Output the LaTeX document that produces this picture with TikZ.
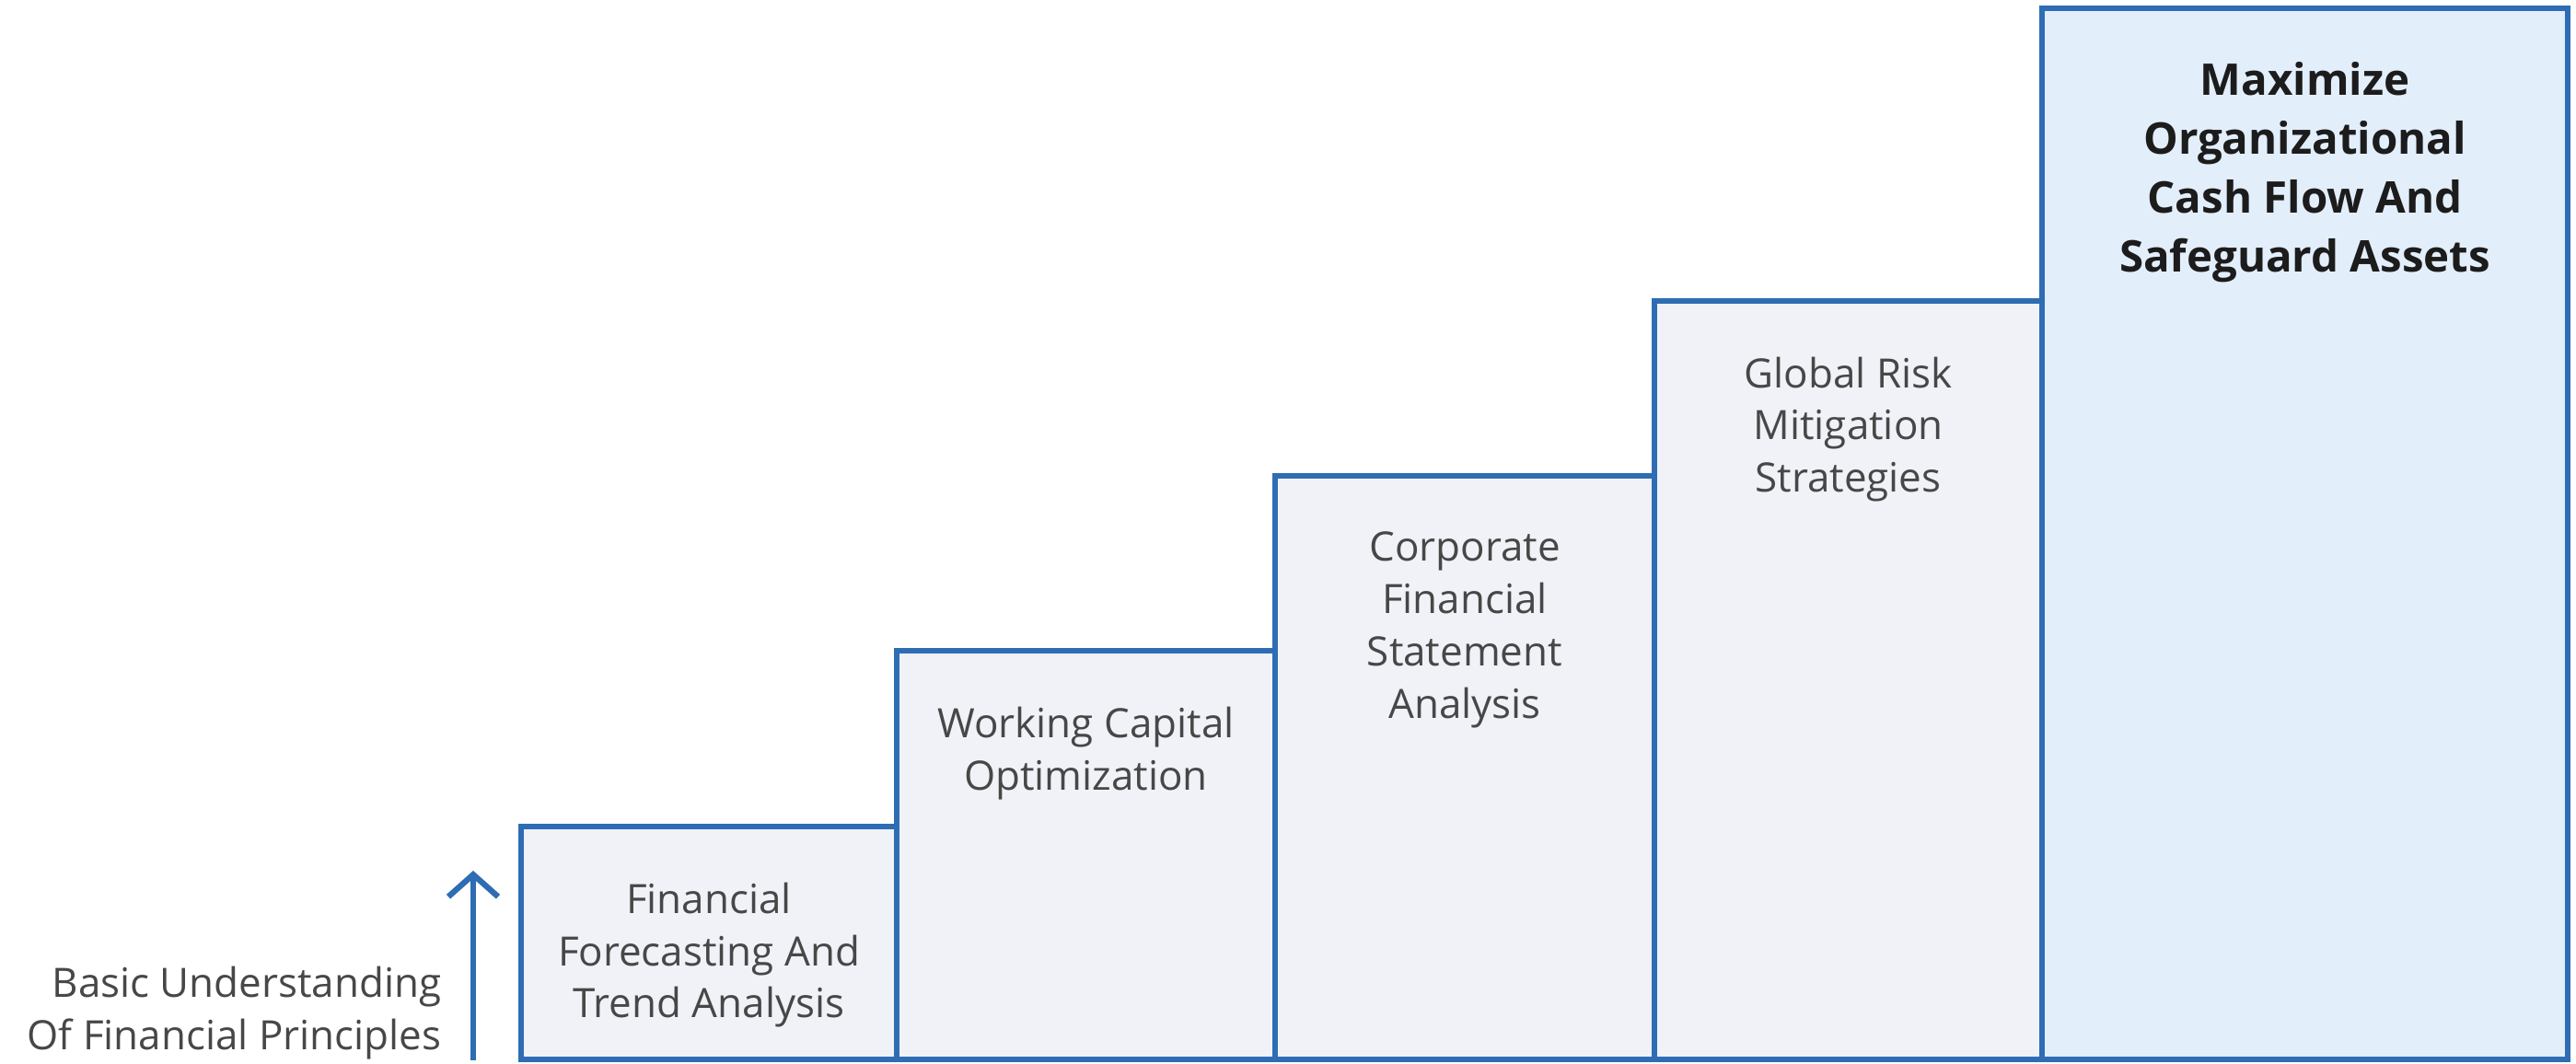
\documentclass[tikz,border=0pt]{standalone}
\usepackage{fontspec}
\setmainfont{Open Sans}
\usetikzlibrary{positioning, arrows.meta}

\definecolor{stepblue}{HTML}{2E6DB4}
\definecolor{stepfill}{HTML}{F0F2F7}
\definecolor{topfill}{HTML}{E3EEFB}
\definecolor{steptext}{HTML}{474747}
\definecolor{toptext}{HTML}{1C1C1C}

\tikzset{
  stepbox/.style={draw=stepblue, line width=1.8pt, fill=stepfill, anchor=south west, outer sep=0pt, inner sep=0pt},
  steplabel/.style={text=steptext, font=\fontsize{12.5}{16.2}\selectfont, inner sep=0pt},
}

\begin{document}
\begin{tikzpicture}[>={Straight Barb[length=2.4mm, width=5.4mm]}, align=center]
\useasboundingbox (0,0) rectangle (27.98,11.56);

% the staircase
\node[stepbox, minimum width=4.08cm, minimum height=2.53cm] (fc) at (5.66,0.05) {};
\node[stepbox, minimum width=4.11cm, minimum height=4.44cm] (wc) at (fc.south east) {};
\node[stepbox, minimum width=4.12cm, minimum height=6.34cm] (cfs) at (wc.south east) {};
\node[stepbox, minimum width=4.21cm, minimum height=8.24cm] (grm) at (cfs.south east) {};
\node[stepbox, fill=topfill, minimum width=5.71cm, minimum height=11.42cm] (goal) at (grm.south east) {};

\node[steplabel, below=0.6cm of fc.north] (fctext) {Financial\\Forecasting And\\Trend Analysis};
\node[steplabel, below=0.6cm of wc.north] (wctext) {Working Capital\\Optimization};
\node[steplabel, below=0.6cm of cfs.north] (cfstext) {Corporate\\Financial\\Statement\\Analysis};
\node[steplabel, below=0.6cm of grm.north] (grmtext) {Global Risk\\Mitigation\\Strategies};
\node[steplabel, text=toptext, font=\fontsize{13.5}{18.2}\selectfont\bfseries, below=0.58cm of goal.north] (goaltext) {Maximize\\Organizational\\Cash Flow And\\Safeguard Assets};

% starting level
\coordinate (arrowfoot) at (5.14,0.04);
\coordinate (arrowtip) at (5.14,2.10);
\draw[->, stepblue, line width=1.8pt] (arrowfoot) -- (arrowtip);
\node[steplabel, align=right, left=0.34cm of arrowfoot, anchor=south east] (basics) {Basic Understanding\\Of Financial Principles};
\end{tikzpicture}
\end{document}
